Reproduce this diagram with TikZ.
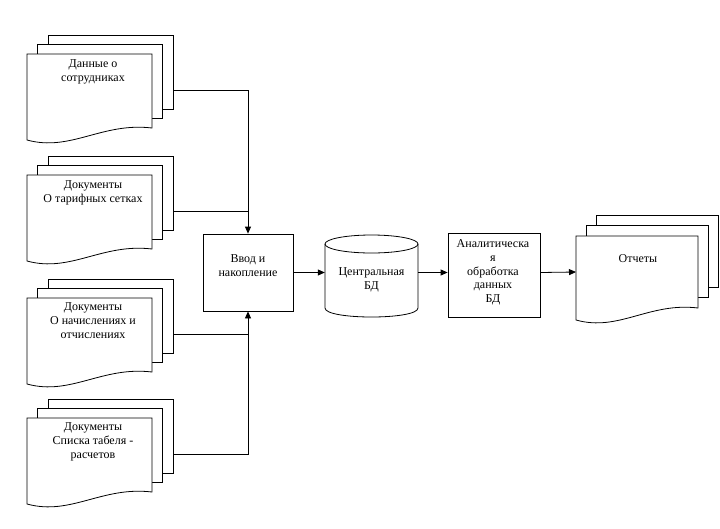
\documentclass[tikz,border=0pt]{standalone}
\usepackage{fontspec}
\setmainfont{Liberation Serif}
\usetikzlibrary{arrows.meta}
\tikzset{
  sheet/.style={draw, fill=white, line width=0.8pt},
  lbl/.style={font=\fontsize{12}{13.8}\selectfont, align=center, inner sep=0pt},
  box/.style={draw, line width=0.8pt},
  flow/.style={draw, line width=0.8pt, -{Triangle[length=7pt,width=6pt]}},
  link/.style={draw, line width=0.8pt}
}
% #1 name, #2 x, #3 y, #4 width, #5 height (right side), #6 dx, #7 dy, #8 text position, #9 text
\newcommand\MultiDoc[9]{%
\begin{scope}[shift={(#2,#3)}]
  \draw[sheet] (2*#6,-2*#7) rectangle ++(#4,#5);
  \draw[sheet] (#6,-#7) rectangle ++(#4,#5);
  \draw[sheet] (0,0) -- (#4,0) -- (#4,#5) .. controls (0.6*#4,#5-6) and (0.35*#4,#5+24) .. (0,#5+12) -- cycle;
  \node[lbl, anchor=north] (#1) at (#8) {#9};
  \coordinate (#1-out) at (#4+2*#6,36);
  \coordinate (#1-in) at (0,36);
\end{scope}}
\begin{document}
\begin{tikzpicture}[x=1pt,y=-1pt]
\useasboundingbox (0,0) rectangle (720,528);
% documents on the left
\MultiDoc{d1}{27}{54}{125}{74}{10.5}{9.5}{66,5.5}{Данные о\\сотрудниках}
\MultiDoc{d2}{27}{175}{125}{74}{10.5}{9.5}{66,5.5}{Документы\\О тарифных сетках}
\MultiDoc{d3}{27}{298}{125}{74}{10.5}{9.5}{66,4.5}{Документы\\О начислениях и\\отчислениях}
\MultiDoc{d4}{27}{418}{125}{74}{10.5}{9.5}{66,4.5}{Документы\\Списка табеля -\\расчетов}
% input box
\node[box, minimum width=90pt, minimum height=77pt, inner sep=0pt] (vvod) at (248,272.5) {};
\node[lbl] (vvodtxt) at (248,266) {Ввод и\\накопление};
% database cylinder
\node[minimum width=93pt, minimum height=82pt, inner sep=0pt] (bd) at (371.5,276) {};
\draw[box, fill=white] (325,244) -- (325,308) .. controls (325,320) and (418,320) .. (418,308) -- (418,244);
\draw[box] (371.5,244) ellipse [x radius=46.5, y radius=9];
\node[lbl] (bdtxt) at (371.5,280) {Центральная\\БД};
% analytic box
\node[box, minimum width=92pt, minimum height=84pt, inner sep=0pt] (an) at (494,275) {};
\node[lbl] (antxt) at (493,272.5) {Аналитическа\\я\\обработка\\данных\\БД};
% reports
\MultiDoc{rep}{576}{236}{122}{72}{10}{10.5}{62,18}{Отчеты}
% connectors
\draw[flow] (d1-out) -| (vvod.north);
\draw[link] (d2-out) -- (d2-out -| vvod.north);
\draw[flow] (d4-out) -| (vvod.south);
\draw[link] (d3-out) -- (d3-out -| vvod.south);
\draw[flow] (vvod.east) -- (vvod.east -| bd.west);
\draw[flow] (vvod.east -| bd.east) -- (vvod.east -| an.west);
\draw[flow] (vvod.east -| an.east) -- (rep-in);
\end{tikzpicture}
\end{document}
